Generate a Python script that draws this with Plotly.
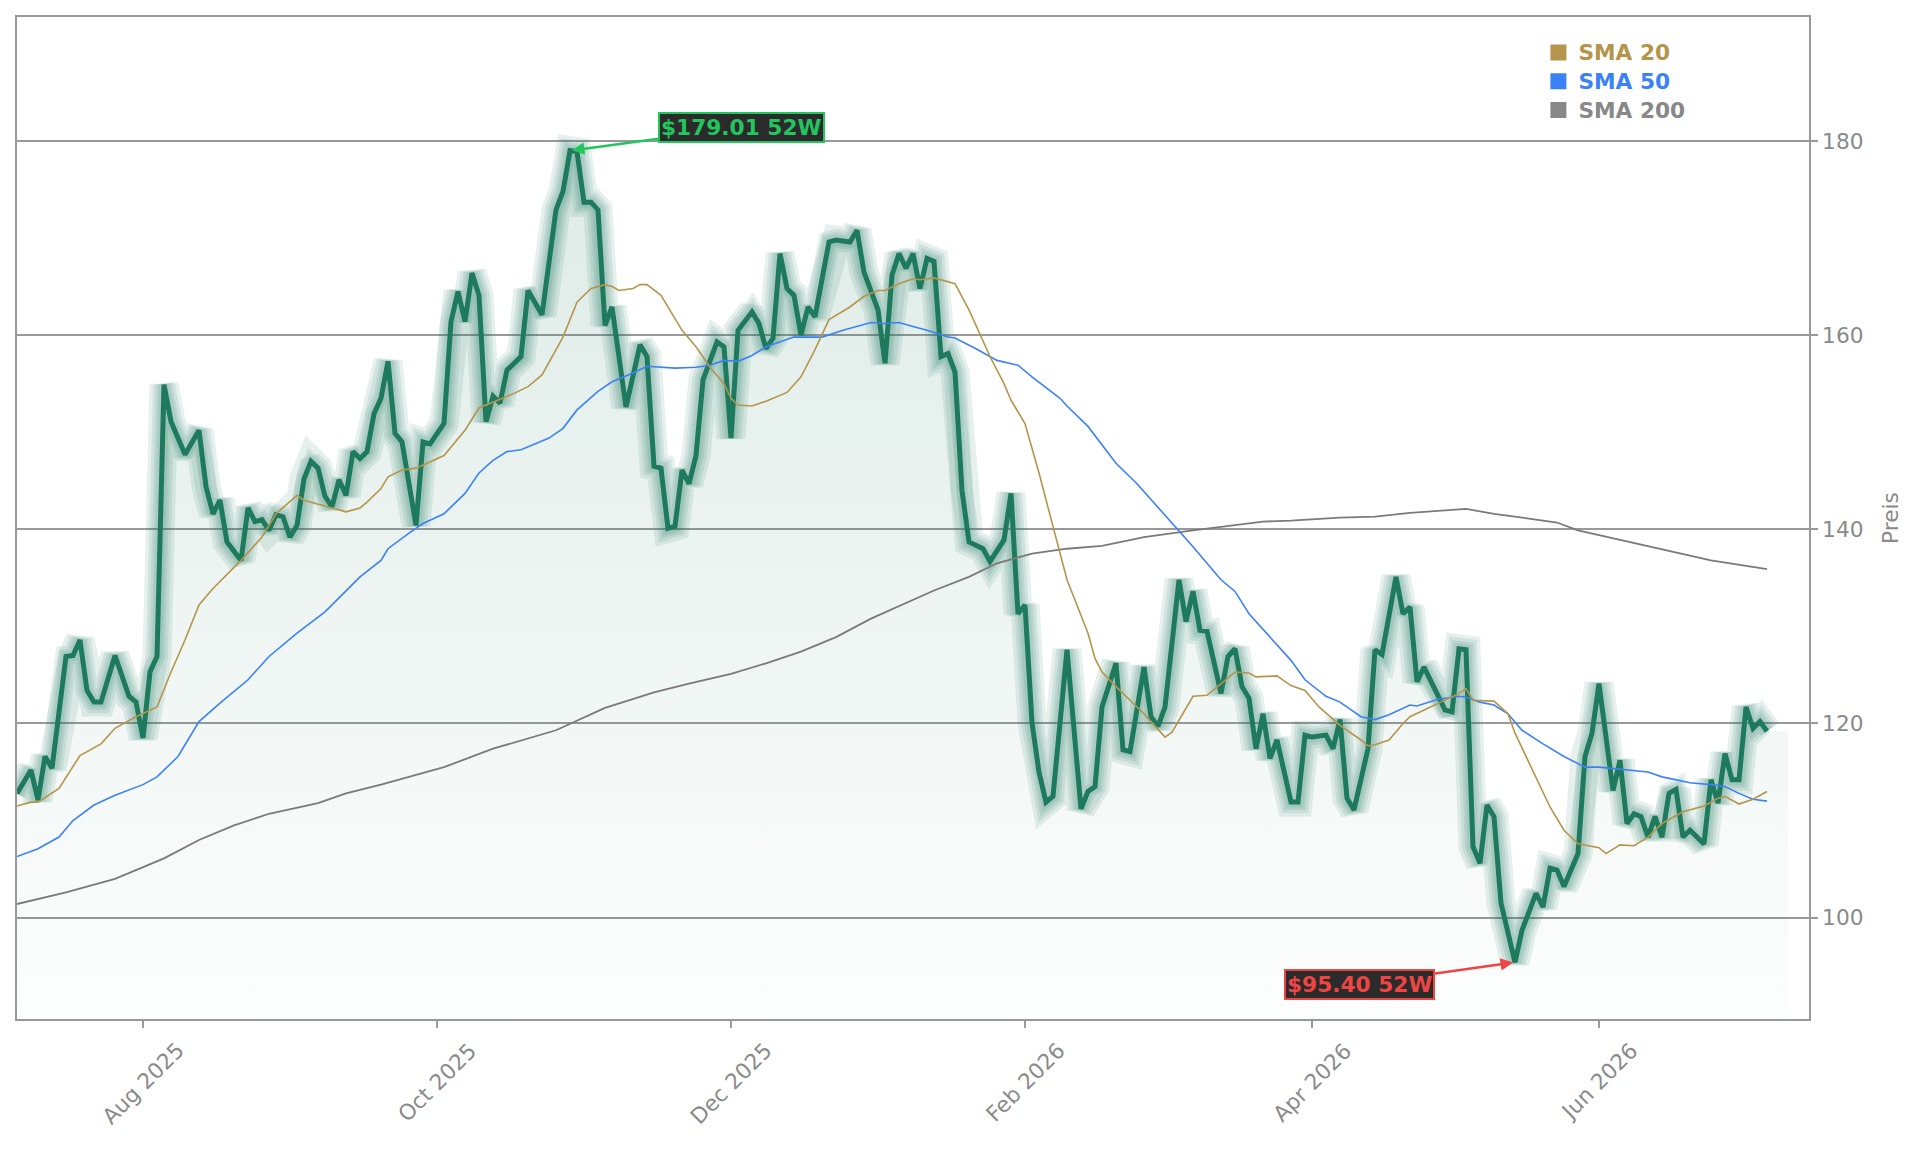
import plotly.graph_objects as go

# ---------------- data (trading days only) ----------------
price_dates = [
    "2025-07-08", "2025-07-10", "2025-07-11", "2025-07-14", "2025-07-15", "2025-07-17", "2025-07-18",
    "2025-07-21", "2025-07-22", "2025-07-23", "2025-07-24", "2025-07-28", "2025-07-30", "2025-07-31",
    "2025-08-01", "2025-08-04", "2025-08-05", "2025-08-06", "2025-08-07", "2025-08-11", "2025-08-13",
    "2025-08-14", "2025-08-15", "2025-08-18", "2025-08-19", "2025-08-21", "2025-08-22", "2025-08-25",
    "2025-08-26", "2025-08-27", "2025-08-28", "2025-08-29", "2025-09-02", "2025-09-03", "2025-09-04",
    "2025-09-05", "2025-09-08", "2025-09-09", "2025-09-10", "2025-09-11", "2025-09-12", "2025-09-15",
    "2025-09-16", "2025-09-17", "2025-09-18", "2025-09-19", "2025-09-22", "2025-09-23", "2025-09-24",
    "2025-09-26", "2025-09-29", "2025-09-30", "2025-10-02", "2025-10-03", "2025-10-06", "2025-10-07",
    "2025-10-08", "2025-10-09", "2025-10-10", "2025-10-13", "2025-10-14", "2025-10-15", "2025-10-17",
    "2025-10-20", "2025-10-22", "2025-10-24", "2025-10-27", "2025-10-28", "2025-10-29", "2025-10-30",
    "2025-10-31", "2025-11-03", "2025-11-04", "2025-11-05", "2025-11-07", "2025-11-11", "2025-11-12",
    "2025-11-13", "2025-11-14", "2025-11-17", "2025-11-18", "2025-11-19", "2025-11-20", "2025-11-21",
    "2025-11-24", "2025-11-26", "2025-11-28", "2025-12-01", "2025-12-02", "2025-12-04", "2025-12-05",
    "2025-12-08", "2025-12-09", "2025-12-10", "2025-12-11", "2025-12-12", "2025-12-15", "2025-12-16",
    "2025-12-17", "2025-12-19", "2025-12-22", "2025-12-24", "2025-12-26", "2025-12-29", "2025-12-31",
    "2026-01-02", "2026-01-05", "2026-01-06", "2026-01-07", "2026-01-08", "2026-01-09", "2026-01-12",
    "2026-01-13", "2026-01-14", "2026-01-15", "2026-01-16", "2026-01-20", "2026-01-21", "2026-01-23",
    "2026-01-26", "2026-01-28", "2026-01-29", "2026-01-30", "2026-02-02", "2026-02-03", "2026-02-04",
    "2026-02-05", "2026-02-06", "2026-02-10", "2026-02-12", "2026-02-13", "2026-02-17", "2026-02-18",
    "2026-02-20", "2026-02-23", "2026-02-24", "2026-02-26", "2026-02-27", "2026-03-02", "2026-03-03",
    "2026-03-05", "2026-03-06", "2026-03-09", "2026-03-10", "2026-03-11", "2026-03-13", "2026-03-16",
    "2026-03-17", "2026-03-18", "2026-03-19", "2026-03-20", "2026-03-23", "2026-03-24", "2026-03-25",
    "2026-03-27", "2026-03-30", "2026-03-31", "2026-04-01", "2026-04-06", "2026-04-07", "2026-04-08",
    "2026-04-09", "2026-04-10", "2026-04-13", "2026-04-14", "2026-04-15", "2026-04-16", "2026-04-20",
    "2026-04-21", "2026-04-22", "2026-04-23", "2026-04-24", "2026-04-29", "2026-04-30", "2026-05-01",
    "2026-05-04", "2026-05-05", "2026-05-06", "2026-05-07", "2026-05-08", "2026-05-11", "2026-05-13",
    "2026-05-14", "2026-05-18", "2026-05-19", "2026-05-20", "2026-05-21", "2026-05-22", "2026-05-27",
    "2026-05-28", "2026-05-29", "2026-06-01", "2026-06-02", "2026-06-03", "2026-06-04", "2026-06-05",
    "2026-06-08", "2026-06-09", "2026-06-10", "2026-06-11", "2026-06-12", "2026-06-15", "2026-06-16",
    "2026-06-17", "2026-06-18", "2026-06-23", "2026-06-24", "2026-06-25", "2026-06-26", "2026-06-29",
    "2026-06-30", "2026-07-01", "2026-07-02", "2026-07-06", "2026-07-07",
]
price_values = [
    112.8, 115.2, 112.1, 116.6, 115.4, 126.9, 127.0,
    128.6, 123.4, 122.2, 122.2, 127.0, 122.8, 122.2,
    118.5, 125.3, 126.9, 154.9, 151.1, 147.7, 150.2,
    144.4, 141.6, 143.0, 138.7, 136.8, 142.2, 140.8,
    141.0, 139.9, 141.5, 141.3, 139.2, 140.4, 145.2,
    147.0, 146.3, 143.4, 142.3, 145.1, 143.5, 148.0,
    147.3, 148.0, 151.9, 153.5, 157.3, 149.9, 149.0,
    140.4, 149.0, 148.8, 150.9, 161.4, 164.5, 161.4,
    166.4, 164.1, 151.1, 153.7, 153.0, 156.4, 157.8,
    164.6, 162.1, 172.9, 174.8, 179.01, 178.9, 173.7,
    173.7, 172.9, 161.0, 162.9, 152.6, 159.0, 157.8,
    146.5, 146.3, 140.1, 140.3, 146.1, 144.7, 147.6,
    155.4, 159.3, 158.8, 149.4, 160.5, 162.4, 161.2,
    158.6, 159.7, 168.4, 164.8, 164.1, 160.0, 162.9,
    161.9, 169.6, 169.8, 169.6, 170.8, 166.5, 162.6,
    157.1, 166.2, 168.4, 166.9, 168.4, 164.8, 167.9,
    167.6, 157.8, 158.1, 156.2, 144.0, 138.7, 138.0,
    136.7, 138.9, 143.7, 131.3, 132.2, 120.1, 115.0,
    111.9, 112.5, 127.6, 111.2, 113.0, 113.5, 121.7,
    126.2, 117.3, 117.1, 125.8, 120.7, 119.7, 121.7,
    134.8, 130.5, 133.6, 129.6, 129.5, 123.1, 126.9,
    127.7, 123.8, 122.6, 117.4, 121.0, 116.4, 118.3,
    111.9, 111.9, 118.8, 118.6, 118.8, 117.4, 120.4,
    112.3, 111.1, 114.3, 117.4, 127.6, 127.1, 135.1,
    131.3, 132.0, 124.3, 125.8, 121.4, 121.2, 127.7,
    127.6, 107.3, 105.6, 111.6, 110.4, 101.5, 95.40,
    98.7, 102.5, 101.1, 105.1, 104.9, 103.2, 106.6,
    116.6, 119.0, 124.1, 118.8, 113.1, 116.2, 109.7,
    110.7, 110.4, 108.3, 110.4, 108.3, 112.8, 113.2,
    108.3, 109.0, 107.6, 114.2, 111.8, 116.9, 114.2,
    114.2, 121.7, 119.5, 120.2, 119.2,
]

sma20_dates = [
    "2025-07-08", "2025-07-10", "2025-07-11", "2025-07-16", "2025-07-21", "2025-07-24", "2025-07-28",
    "2025-07-31", "2025-08-05", "2025-08-07", "2025-08-11", "2025-08-13", "2025-08-15", "2025-08-21",
    "2025-08-26", "2025-08-28", "2025-09-03", "2025-09-04", "2025-09-10", "2025-09-12", "2025-09-16",
    "2025-09-17", "2025-09-19", "2025-09-22", "2025-09-24", "2025-09-26", "2025-10-02", "2025-10-07",
    "2025-10-09", "2025-10-13", "2025-10-16", "2025-10-20", "2025-10-22", "2025-10-27", "2025-10-29",
    "2025-10-31", "2025-11-04", "2025-11-05", "2025-11-06", "2025-11-10", "2025-11-11", "2025-11-12",
    "2025-11-14", "2025-11-18", "2025-11-19", "2025-11-21", "2025-11-25", "2025-11-28", "2025-12-01",
    "2025-12-02", "2025-12-04", "2025-12-08", "2025-12-11", "2025-12-15", "2025-12-17", "2025-12-19",
    "2025-12-24", "2025-12-29", "2025-12-31", "2026-01-02", "2026-01-06", "2026-01-08", "2026-01-09",
    "2026-01-13", "2026-01-16", "2026-01-21", "2026-01-26", "2026-01-28", "2026-01-29", "2026-02-02",
    "2026-02-04", "2026-02-06", "2026-02-10", "2026-02-13", "2026-02-17", "2026-02-18", "2026-02-20",
    "2026-02-26", "2026-03-03", "2026-03-04", "2026-03-09", "2026-03-11", "2026-03-13", "2026-03-17",
    "2026-03-19", "2026-03-20", "2026-03-25", "2026-03-27", "2026-03-31", "2026-04-02", "2026-04-08",
    "2026-04-13", "2026-04-14", "2026-04-15", "2026-04-17", "2026-04-21", "2026-04-22", "2026-04-24",
    "2026-04-29", "2026-05-01", "2026-05-04", "2026-05-05", "2026-05-08", "2026-05-12", "2026-05-13",
    "2026-05-15", "2026-05-20", "2026-05-22", "2026-05-27", "2026-06-01", "2026-06-02", "2026-06-04",
    "2026-06-08", "2026-06-10", "2026-06-12", "2026-06-17", "2026-06-23", "2026-06-25", "2026-06-26",
    "2026-06-30", "2026-07-02", "2026-07-07",
]
sma20_values = [
    111.5, 111.9, 111.9, 113.3, 116.7, 117.9, 119.5,
    120.7, 121.7, 125.3, 128.6, 132.2, 133.9, 136.8,
    139.2, 141.6, 143.5, 143.0, 142.2, 141.8, 142.2,
    142.8, 144.2, 145.4, 146.1, 146.3, 147.6, 150.2,
    152.5, 153.1, 154.0, 154.7, 155.9, 159.8, 163.4,
    164.8, 165.2, 165.0, 164.6, 164.8, 165.2, 165.2,
    164.1, 161.7, 160.5, 158.8, 156.7, 155.0, 153.5,
    152.8, 152.7, 153.2, 154.1, 155.7, 158.5, 161.6,
    162.9, 164.0, 164.6, 164.6, 165.3, 165.8, 165.7,
    165.9, 165.3, 162.6, 157.8, 155.0, 153.3, 150.9,
    145.8, 140.3, 134.8, 129.3, 126.7, 125.3, 123.8,
    121.0, 118.6, 119.1, 122.8, 122.9, 124.1, 125.3,
    125.2, 124.8, 124.9, 123.9, 123.4, 121.7, 119.8,
    118.3, 117.7, 117.8, 118.3, 120.0, 120.7, 121.4,
    122.4, 123.1, 123.6, 122.4, 122.3, 121.0, 119.0,
    115.9, 111.4, 109.0, 107.6, 107.2, 106.6, 107.5,
    107.4, 108.3, 109.7, 110.9, 111.5, 112.3, 112.5,
    111.7, 112.2, 113.0,
]

sma50_dates = [
    "2025-07-08", "2025-07-11", "2025-07-16", "2025-07-18", "2025-07-23", "2025-07-28", "2025-08-01",
    "2025-08-05", "2025-08-08", "2025-08-13", "2025-08-18", "2025-08-22", "2025-08-27", "2025-09-03",
    "2025-09-09", "2025-09-16", "2025-09-19", "2025-09-22", "2025-09-25", "2025-09-29", "2025-10-02",
    "2025-10-07", "2025-10-09", "2025-10-13", "2025-10-15", "2025-10-17", "2025-10-23", "2025-10-27",
    "2025-10-29", "2025-11-03", "2025-11-05", "2025-11-10", "2025-11-12", "2025-11-14", "2025-11-18",
    "2025-11-21", "2025-11-25", "2025-11-28", "2025-12-02", "2025-12-04", "2025-12-08", "2025-12-12",
    "2025-12-18", "2025-12-23", "2025-12-30", "2026-01-02", "2026-01-06", "2026-01-08", "2026-01-12",
    "2026-01-15", "2026-01-16", "2026-01-22", "2026-01-27", "2026-01-30", "2026-02-03", "2026-02-09",
    "2026-02-10", "2026-02-13", "2026-02-18", "2026-02-20", "2026-02-25", "2026-03-03", "2026-03-05",
    "2026-03-09", "2026-03-13", "2026-03-17", "2026-03-19", "2026-03-24", "2026-03-27", "2026-03-31",
    "2026-04-06", "2026-04-08", "2026-04-13", "2026-04-15", "2026-04-17", "2026-04-22", "2026-04-23",
    "2026-04-28", "2026-05-01", "2026-05-04", "2026-05-06", "2026-05-08", "2026-05-12", "2026-05-14",
    "2026-05-19", "2026-05-22", "2026-05-28", "2026-06-01", "2026-06-04", "2026-06-10", "2026-06-12",
    "2026-06-18", "2026-06-24", "2026-06-26", "2026-06-30", "2026-07-02", "2026-07-07",
]
sma50_values = [
    106.3, 107.1, 108.3, 110.0, 111.6, 112.6, 113.7,
    114.5, 116.6, 120.2, 122.1, 124.5, 126.9, 129.3,
    131.5, 135.1, 136.8, 138.0, 139.6, 140.6, 141.6,
    143.7, 145.8, 147.1, 148.0, 148.2, 149.4, 150.4,
    152.3, 154.2, 155.2, 156.1, 156.8, 156.7, 156.6,
    156.7, 156.9, 157.4, 157.3, 157.9, 158.8, 159.8,
    159.8, 160.5, 161.3, 161.2, 161.3, 160.9, 160.5,
    159.8, 159.7, 158.6, 157.4, 156.9, 155.7, 153.5,
    152.7, 150.6, 148.7, 146.8, 144.7, 141.5, 139.8,
    138.2, 134.8, 133.6, 131.3, 128.9, 126.5, 124.5,
    122.8, 122.2, 120.7, 120.4, 120.9, 121.9, 121.8,
    122.5, 122.8, 122.7, 122.2, 121.9, 121.0, 119.3,
    117.9, 116.6, 115.5, 115.5, 115.3, 115.0, 114.5,
    113.9, 113.7, 113.5, 112.8, 112.2, 112.0,
]

sma200_dates = [
    "2025-07-08", "2025-07-17", "2025-07-28", "2025-08-06", "2025-08-13", "2025-08-20", "2025-08-27",
    "2025-09-02", "2025-09-08", "2025-09-12", "2025-09-19", "2025-10-02", "2025-10-13", "2025-10-24",
    "2025-11-04", "2025-11-13", "2025-11-20", "2025-12-01", "2025-12-08", "2025-12-15", "2025-12-22",
    "2025-12-30", "2026-01-07", "2026-01-13", "2026-01-21", "2026-01-27", "2026-02-03", "2026-02-10",
    "2026-02-18", "2026-02-26", "2026-03-09", "2026-03-23", "2026-03-27", "2026-04-08", "2026-04-15",
    "2026-04-22", "2026-05-04", "2026-05-08", "2026-05-15", "2026-05-21", "2026-05-27", "2026-06-08",
    "2026-06-17", "2026-06-24", "2026-07-07",
]
sma200_values = [
    101.4, 102.6, 104.0, 106.1, 108.0, 109.5, 110.7,
    111.2, 111.8, 112.8, 113.7, 115.5, 117.4, 119.3,
    121.6, 123.2, 124.1, 125.1, 126.2, 127.4, 128.9,
    130.8, 132.4, 133.7, 135.1, 136.5, 137.5, 138.0,
    138.3, 139.2, 139.9, 140.8, 140.9, 141.2, 141.3,
    141.7, 142.1, 141.6, 141.1, 140.7, 139.9, 138.6,
    137.5, 136.8, 135.9,
]

# exchange holidays (no trading) inside the shown period
market_holidays = ["2025-09-01", "2025-11-27", "2025-12-25", "2026-01-01", "2026-01-19",
                   "2026-02-16", "2026-04-03", "2026-05-25", "2026-06-19", "2026-07-03"]

fill_end_date = "2026-07-10"
legend_labels = ["SMA 20", "SMA 50", "SMA 200"]
x_tick_dates = ["2025-08-01", "2025-10-01", "2025-12-01", "2026-02-02", "2026-04-01", "2026-06-01"]
x_tick_labels = ["Aug 2025", "Oct 2025", "Dec 2025", "Feb 2026", "Apr 2026", "Jun 2026"]
y_tick_values = [100, 120, 140, 160, 180]
axis_title = "Preis"

# ---------------- styling ----------------
FONT = "DejaVu Sans"
FS = 21.7
GREEN = "#1d7a5c"
GOLD = "#b5954b"
BLUE = "#3b82f6"
GREY = "#888888"
AXIS_GREY = "#999999"
TEXT_GREY = "#8a8a8a"
Y_MIN, Y_MAX = 89.56, 192.77
X_RANGE = ["2025-07-08", "2026-07-15"]

fig = go.Figure()

# gradient area under the price
fig.add_trace(go.Scatter(
    x=price_dates + [fill_end_date], y=price_values + [price_values[-1]],
    mode="none", fill="tozeroy",
    fillgradient=dict(type="vertical",
                      colorscale=[[0, "rgba(29,122,92,0.01)"], [1, "rgba(29,122,92,0.15)"]],
                      start=Y_MIN, stop=max(price_values)),
    showlegend=False, hoverinfo="skip"))

# glow around the price line
for w in [29, 22, 16, 11]:
    fig.add_trace(go.Scatter(
        x=price_dates, y=price_values, mode="lines",
        line=dict(color="rgba(29,122,92,0.11)", width=w),
        showlegend=False, hoverinfo="skip"))

fig.add_trace(go.Scatter(
    x=price_dates, y=price_values, mode="lines",
    line=dict(color=GREEN, width=5), showlegend=False, name="Preis"))

for dates, vals, col, w in [(sma200_dates, sma200_values, "#7a7a7a", 1.8),
                            (sma50_dates, sma50_values, BLUE, 1.6),
                            (sma20_dates, sma20_values, GOLD, 1.6)]:
    fig.add_trace(go.Scatter(x=dates, y=vals, mode="lines",
                             line=dict(color=col, width=w), showlegend=False))

# legend entries (square markers, coloured bold text)
for lab, col in zip(legend_labels, [GOLD, BLUE, GREY]):
    fig.add_trace(go.Scatter(
        x=[None], y=[None], mode="markers",
        marker=dict(symbol="square", size=16, color=col),
        name=f'<span style="color:{col};font-size:{FS}px"><b>{lab}</b></span>'))

# 52-week high / low annotations
hi_val = max(price_values)
hi_date = price_dates[price_values.index(hi_val)]
lo_val = min(price_values)
lo_date = price_dates[price_values.index(lo_val)]

fig.add_annotation(x=hi_date, y=hi_val, text=f"<b>${hi_val:.2f} 52W</b>",
                   showarrow=True, ax=171, ay=-23, arrowcolor="#22c55e", arrowwidth=2.5,
                   arrowhead=2, arrowsize=1, standoff=2,
                   font=dict(family=FONT, size=FS, color="#22c55e"),
                   bgcolor="#2b2b2b", bordercolor="#22c55e", borderwidth=2, borderpad=1)
fig.add_annotation(x=lo_date, y=lo_val, text=f"<b>${lo_val:.2f} 52W</b>",
                   showarrow=True, ax=-156, ay=22, arrowcolor="#ef4444", arrowwidth=2.5,
                   arrowhead=2, arrowsize=1, standoff=2,
                   font=dict(family=FONT, size=FS, color="#ef4444"),
                   bgcolor="#2b2b2b", bordercolor="#ef4444", borderwidth=2, borderpad=1)

# x tick labels: rotated 45 degrees and centred under each tick
for d, lab in zip(x_tick_dates, x_tick_labels):
    fig.add_annotation(x=d, y=0, xref="x", yref="paper", text=lab, showarrow=False,
                       textangle=-45, xanchor="center", yanchor="top", yshift=-16,
                       font=dict(family=FONT, size=FS, color=TEXT_GREY))

fig.update_layout(
    width=1921, height=1151,
    margin=dict(l=17, r=112, t=17, b=132),
    paper_bgcolor="white", plot_bgcolor="white",
    font=dict(family=FONT, color=TEXT_GREY),
    hovermode=False,
    legend=dict(x=0.849, y=0.984, xanchor="left", yanchor="top",
                bgcolor="rgba(0,0,0,0)", borderwidth=0,
                font=dict(family=FONT, size=19.8), itemwidth=30, tracegroupgap=0),
    xaxis=dict(type="date", range=X_RANGE, tickvals=x_tick_dates, showticklabels=False,
               rangebreaks=[dict(bounds=["sat", "mon"]), dict(values=market_holidays)],
               ticks="outside", ticklen=7, tickwidth=1.5, tickcolor=AXIS_GREY,
               showline=True, linecolor=AXIS_GREY, linewidth=1.5, mirror=True,
               showgrid=False, zeroline=False),
    yaxis=dict(range=[Y_MIN, Y_MAX], side="right", tickvals=y_tick_values,
               ticks="outside", ticklen=7, tickwidth=1.5, tickcolor=AXIS_GREY,
               showline=True, linecolor=AXIS_GREY, linewidth=1.5, mirror=True,
               showgrid=True, gridcolor=AXIS_GREY, gridwidth=1.5, zeroline=False,
               tickfont=dict(family=FONT, size=FS, color=TEXT_GREY),
               title=dict(text=axis_title, standoff=20,
                          font=dict(family=FONT, size=FS, color=TEXT_GREY))),
)

fig.write_html("out.html", config={"displayModeBar": False})
